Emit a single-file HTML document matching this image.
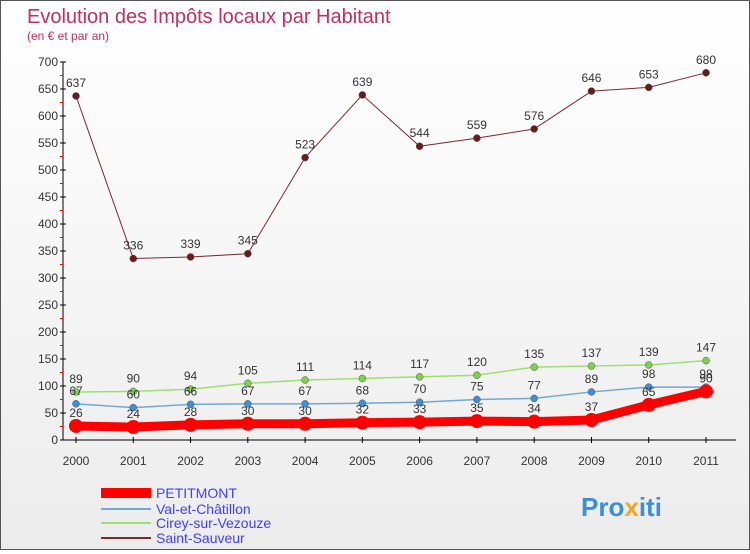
<!DOCTYPE html>
<html><head><meta charset="utf-8"><style>
body{margin:0}
#c{width:748px;height:548px;border:1px solid #555;background:linear-gradient(#fff,#ececec);position:relative;font-family:"Liberation Sans",sans-serif}
text{font-family:"Liberation Sans",sans-serif}
</style></head><body>
<div id="c">
<svg id="s" width="748" height="548">
<text x="26" y="22" font-size="20" fill="#c2305e">Evolution des Impôts locaux par Habitant</text>
<text x="26" y="39" font-size="12" fill="#c2305e">(en € et par an)</text>
<g id="ax"></g><g id="ser"></g>
<g>
<rect x="100" y="487" width="50" height="10" fill="#f00"/>
<text x="155" y="497" font-size="14" fill="#4040ff">PETITMONT</text>
<rect x="100" y="507" width="50" height="2" fill="#6fa8d6"/>
<text x="155" y="513" font-size="14" fill="#4040ff">Val-et-Châtillon</text>
<rect x="100" y="521" width="50" height="2" fill="#9de070"/>
<text x="155" y="527" font-size="14" fill="#4040ff">Cirey-sur-Vezouze</text>
<rect x="100" y="536" width="50" height="2" fill="#7a2a2a"/>
<text x="155" y="542" font-size="14" fill="#4040ff">Saint-Sauveur</text>
</g>
<text x="580" y="515" font-size="26" font-weight="bold" fill="#3a8fd8">Pro<tspan fill="#f5a623">x</tspan>iti</text>
</svg></div>
<script>
const years=["2000","2001","2002","2003","2004","2005","2006","2007","2008","2009","2010","2011"];
const yTicks=[0,50,100,150,200,250,300,350,400,450,500,550,600,650,700];
const petitmont=[26,24,28,30,30,32,33,35,34,37,65,90];
const valChatillon=[67,60,66,67,67,68,70,75,77,89,98,98];
const cirey=[89,90,94,105,111,114,117,120,135,137,139,147];
const saintSauveur=[637,336,339,345,523,639,544,559,576,646,653,680];
const NS="http://www.w3.org/2000/svg";
const X=i=>75+i*(630/11), Y=v=>439-v*(378/700);
function mk(t,a,p){const e=document.createElementNS(NS,t);for(const k in a)e.setAttribute(k,a[k]);p.appendChild(e);return e;}
const ax=document.getElementById('ax'),ser=document.getElementById('ser');
const yl=mk('line',{x1:62,y1:Y(700),x2:62,y2:439,stroke:'#000'},ax);


const xl=mk('line',{x1:62,y1:439,x2:735,y2:439,stroke:'#000'},ax);


yTicks.forEach(v=>{
 mk('line',{x1:59,x2:65,y1:Y(v),y2:Y(v),stroke:'#000'},ax);
 if(v<700)mk('line',{x1:59,x2:62,y1:Y(v+25),y2:Y(v+25),stroke:'#f00'},ax);
 const t=mk('text',{x:57,y:Y(v)+4,'font-size':12,fill:'#333','text-anchor':'end'},ax);t.textContent=v;
 
 
});
years.forEach((y,i)=>{
 mk('line',{x1:X(i),x2:X(i),y1:436,y2:442,stroke:'#000'},ax);
 const t=mk('text',{x:X(i),y:464,'font-size':12,fill:'#333','text-anchor':'middle'},ax);t.textContent=y;
 
 
});
function series(d,col,w,r,pc,name){
 const g=mk('g',{},ser);
 
 
 mk('polyline',{points:d.map((v,i)=>X(i)+','+Y(v)).join(' '),fill:'none',stroke:col,'stroke-width':w,'stroke-linejoin':'round'},g);
 d.forEach((v,i)=>{
  const c=mk('circle',{cx:X(i),cy:Y(v),r:r,fill:pc,stroke:'#555','stroke-width':r>5?0:0.5},g);
  
  
  const t=mk('text',{x:X(i),y:Y(v)-9,'font-size':12,fill:'#333','text-anchor':'middle'},g);t.textContent=v;
 });
}
series(saintSauveur,'#7a2a2a',1,3.5,'#6b1a1a','saint-sauveur');
series(cirey,'#9de070',1.5,3.5,'#7ed04a','cirey');
series(valChatillon,'#6fa8d6',1.5,3.5,'#3a8fd8','val-et-chatillon');
series(petitmont,'#f00',9,7,'#f00','petitmont');
</script>
</body></html>
